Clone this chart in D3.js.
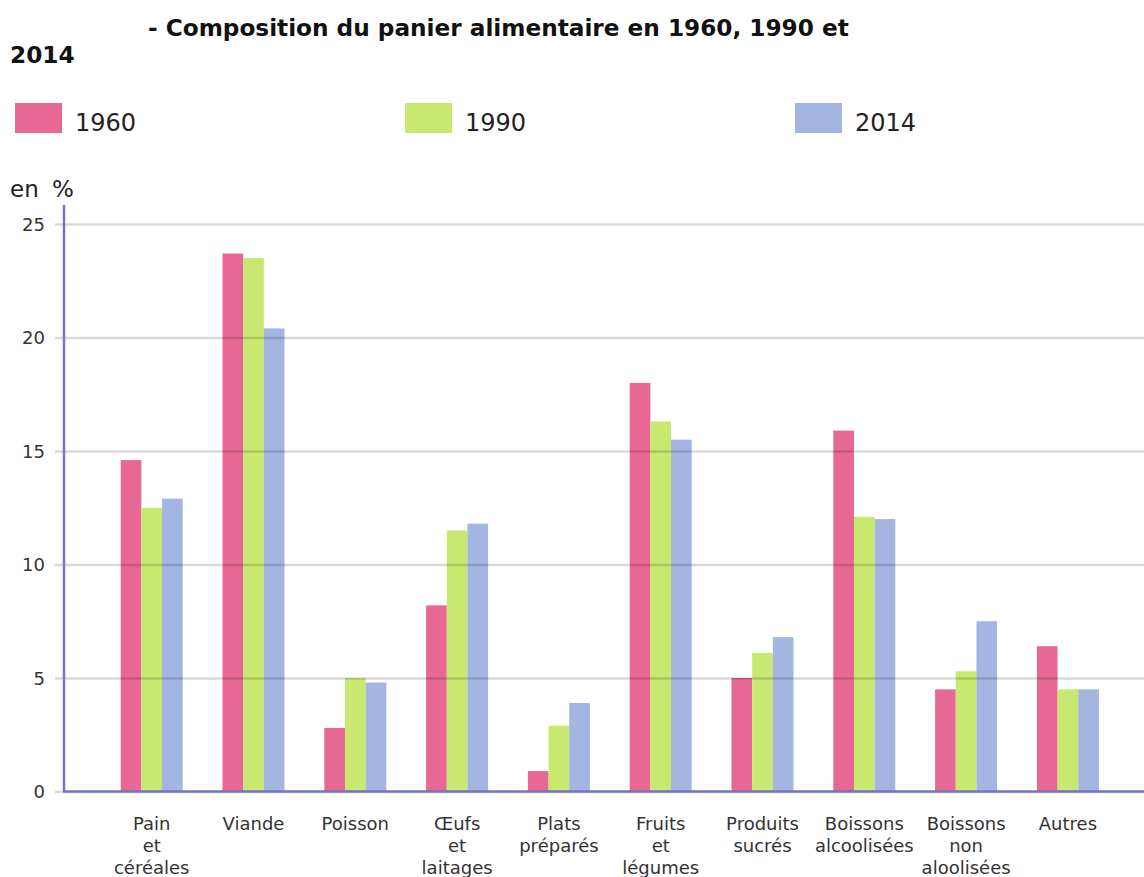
<!DOCTYPE html>
<html>
<head>
<meta charset="utf-8">
<script src="https://cdn.jsdelivr.net/npm/d3@7"></script>
<style>
  html, body { margin: 0; padding: 0; background: #fff; }
  svg { display: block; font-family: "DejaVu Sans", Verdana, sans-serif; }
</style>
</head>
<body>
<svg id="chart" width="1144" height="877"></svg>
<script>
// Composition of the food basket, share of spending (%)
const categories = [
  "Pain\net\ncéréales",
  "Viande",
  "Poisson",
  "Œufs\net\nlaitages",
  "Plats\npréparés",
  "Fruits\net\nlégumes",
  "Produits\nsucrés",
  "Boissons\nalcoolisées",
  "Boissons\nnon\naloolisées",
  "Autres"
];
const years = ["1960", "1990", "2014"];
const values1960 = [14.6, 23.7, 2.8, 8.2, 0.9, 18.0, 5.0, 15.9, 4.5, 6.4];
const values1990 = [12.5, 23.5, 5.0, 11.5, 2.9, 16.3, 6.1, 12.1, 5.3, 4.5];
const values2014 = [12.9, 20.4, 4.8, 11.8, 3.9, 15.5, 6.8, 12.0, 7.5, 4.5];
const yTicks = [0, 5, 10, 15, 20, 25];
const titleLine1 = "- Composition du panier alimentaire en 1960, 1990 et";
const titleLine2 = "2014";
const unitWords = ["en", "%"];

const seriesValues = [values1960, values1990, values2014];
const colors = ["#e76894", "#c8e870", "#a4b5e2"];

const svg = d3.select("#chart");
svg.append("rect").attr("width", 1144).attr("height", 877).attr("fill", "#fff");

// Title
const title = svg.append("text")
  .attr("font-weight", "bold").attr("font-size", 23.2).attr("fill", "#111");
title.append("tspan").attr("x", 148).attr("y", 36).text(titleLine1);
title.append("tspan").attr("x", 10).attr("y", 63).text(titleLine2);

// Legend
const legendX = d3.scalePoint().domain(years).range([15, 795]);
const legend = svg.append("g").selectAll("g").data(years).join("g")
  .attr("transform", d => `translate(${legendX(d)},103)`);
legend.append("rect")
  .attr("width", 47).attr("height", 30)
  .attr("fill", (d, i) => colors[i]);
legend.append("text")
  .attr("x", 60).attr("y", 28)
  .attr("font-size", 24).attr("fill", "#222")
  .text(d => d);

// Unit label
const unit = svg.append("text")
  .attr("y", 197).attr("font-size", 23).attr("fill", "#222");
unit.selectAll("tspan").data(unitWords).join("tspan")
  .attr("x", (d, i) => i === 0 ? 10 : 52)
  .text(d => d);

// Scales
const y = d3.scaleLinear().domain([0, 25]).range([791.5, 224]);
const x = d3.scaleBand().domain(categories)
  .range([64, 1155.6]).paddingInner(0.391).paddingOuter(0.557);
const xInner = d3.scaleBand().domain(years).range([0, x.bandwidth()]);

// Bars
const groups = svg.append("g").selectAll("g").data(categories).join("g")
  .attr("transform", d => `translate(${x(d)},0)`);
groups.selectAll("rect")
  .data((d, ci) => years.map((yr, si) => ({ yr, si, v: seriesValues[si][ci] })))
  .join("rect")
  .attr("x", d => xInner(d.yr))
  .attr("width", xInner.bandwidth())
  .attr("y", d => y(d.v))
  .attr("height", d => y(0) - y(d.v))
  .attr("fill", d => colors[d.si]);

// Gridlines drawn over the bars, semi-transparent
const yAxis = d3.axisLeft(y).tickValues(yTicks).tickSize(0).tickPadding(0).tickFormat(d3.format("d"));
const gy = svg.append("g").attr("transform", "translate(64,0)").call(yAxis);
gy.select(".domain").remove();
gy.selectAll(".tick line")
  .attr("x1", -9).attr("x2", 1144 - 64)
  .attr("stroke", "rgba(0,0,0,0.15)").attr("stroke-width", 2.5);
gy.selectAll(".tick text")
  .attr("x", -19).attr("dy", "0.35em")
  .attr("font-size", 18).attr("font-family", "DejaVu Sans, sans-serif")
  .attr("fill", "#333");

// Axis lines
svg.append("line")
  .attr("x1", 64).attr("x2", 64).attr("y1", 205).attr("y2", y(0))
  .attr("stroke", "#7474c2").attr("stroke-width", 2.5);
svg.append("line")
  .attr("x1", 63).attr("x2", 1144).attr("y1", y(0)).attr("y2", y(0))
  .attr("stroke", "#7474c2").attr("stroke-width", 2.5);

// Category labels
const labels = svg.append("g").selectAll("text").data(categories).join("text")
  .attr("text-anchor", "middle")
  .attr("font-size", 18).attr("fill", "#333")
  .attr("transform", d => `translate(${x(d) + x.bandwidth() / 2},830)`);
labels.selectAll("tspan").data(d => d.split("\n")).join("tspan")
  .attr("x", 0).attr("y", (d, i) => i * 22)
  .text(d => d);
</script>
</body>
</html>
